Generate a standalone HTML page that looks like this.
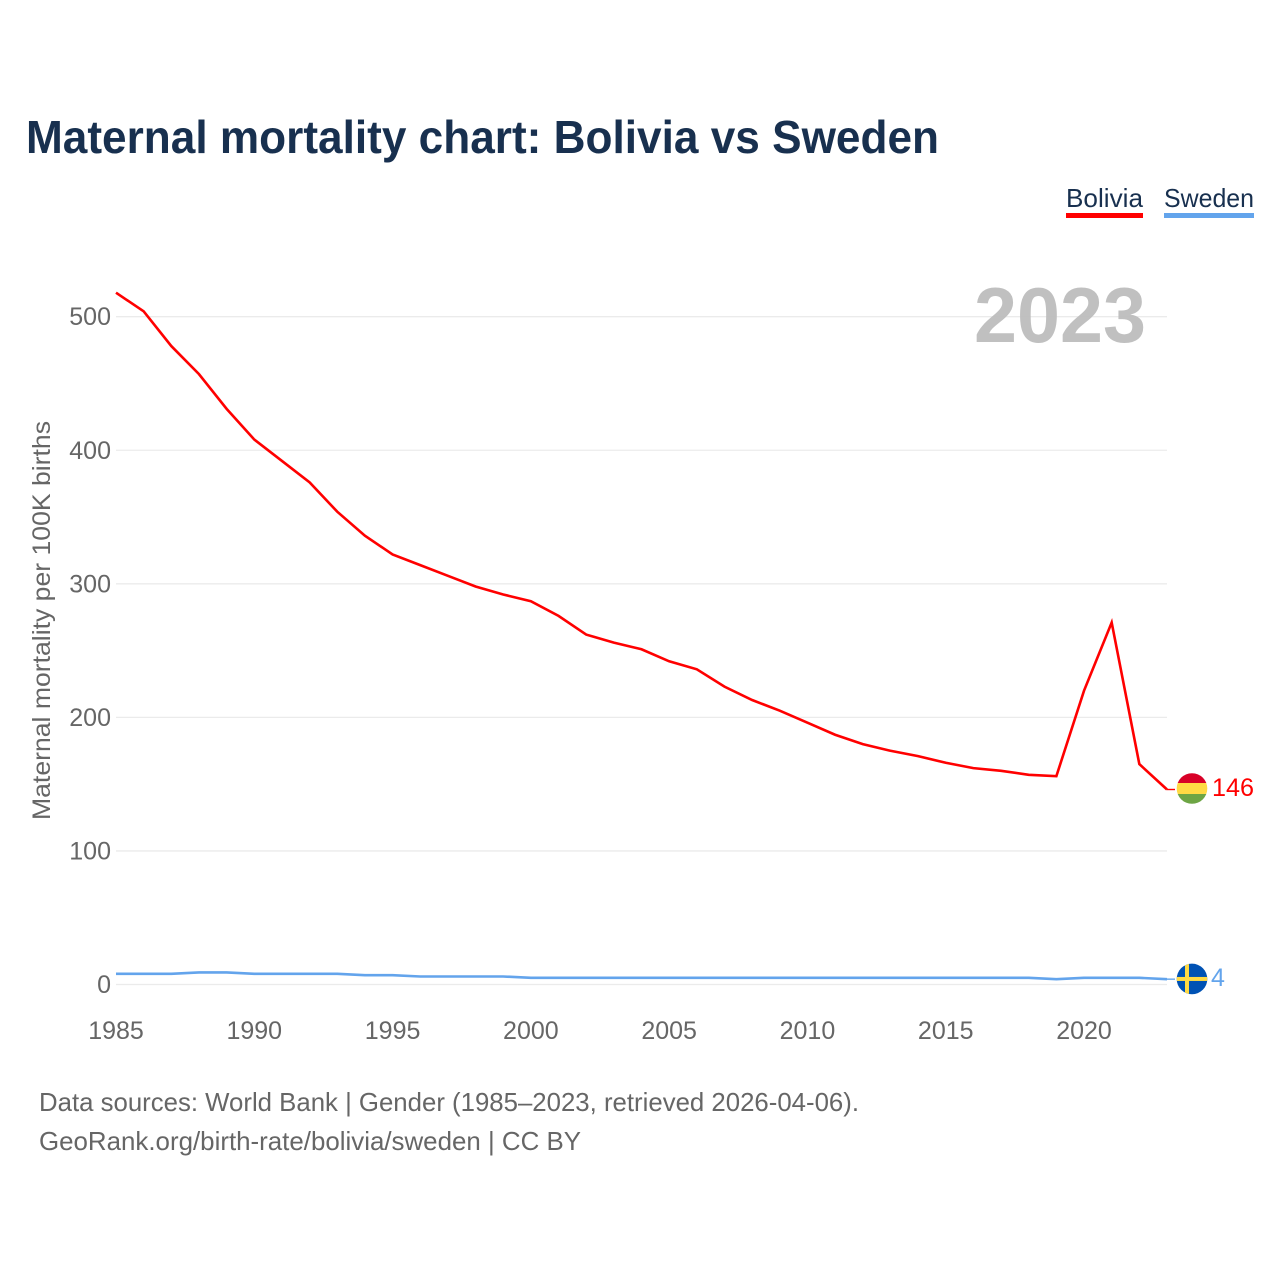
<!DOCTYPE html>
<html lang="en">
<head>
<meta charset="utf-8">
<title>Maternal mortality chart: Bolivia vs Sweden</title>
<style>
html,body{margin:0;padding:0;background:#fff;}
svg{display:block;font-family:"Liberation Sans",sans-serif;}
</style>
</head>
<body>
<svg id="chart" width="1280" height="1280" viewBox="0 0 1280 1280" xmlns="http://www.w3.org/2000/svg">
  <rect x="0" y="0" width="1280" height="1280" fill="#fff"/>
  <text x="26" y="153" font-size="46" font-weight="700" fill="#18304f" textLength="913" lengthAdjust="spacingAndGlyphs">Maternal mortality chart: Bolivia vs Sweden</text>

  <g>
    <text x="1066" y="207" font-size="26" fill="#18304f" textLength="77" lengthAdjust="spacingAndGlyphs">Bolivia</text>
    <rect x="1066" y="213" width="77" height="5" fill="#ff0000"/>
  </g>
  <g>
    <text x="1164" y="207" font-size="26" fill="#18304f" textLength="90" lengthAdjust="spacingAndGlyphs">Sweden</text>
    <rect x="1164" y="213" width="90" height="5" fill="#63a4ec"/>
  </g>

  <g id="grid"></g>
  <text x="1146" y="342" font-size="78" font-weight="700" fill="#bfbfbf" text-anchor="end" textLength="172" lengthAdjust="spacingAndGlyphs" opacity="0.98">2023</text>
  <g id="yticks"></g>
  <g id="xticks"></g>
  <text transform="translate(50 820) rotate(-90)" font-size="25" fill="#666" textLength="399" lengthAdjust="spacingAndGlyphs">Maternal mortality per 100K births</text>

  <g id="series"></g>
  <g id="ends"></g>

  <text x="39" y="1111" font-size="26" fill="#666" textLength="820" lengthAdjust="spacingAndGlyphs">Data sources: World Bank | Gender (1985–2023, retrieved 2026-04-06).</text>
  <text x="39" y="1150" font-size="26" fill="#666" textLength="542" lengthAdjust="spacingAndGlyphs">GeoRank.org/birth-rate/bolivia/sweden | CC BY</text>
</svg>
<script>
const years = [1985,1986,1987,1988,1989,1990,1991,1992,1993,1994,1995,1996,1997,1998,1999,2000,2001,2002,2003,2004,2005,2006,2007,2008,2009,2010,2011,2012,2013,2014,2015,2016,2017,2018,2019,2020,2021,2022,2023];
const bolivia = [518,504,478,457,431,408,392,376,354,336,322,314,306,298,292,287,276,262,256,251,242,236,223,213,205,196,187,180,175,171,166,162,160,157,156,220,271,165,146];
const sweden = [8,8,8,9,9,8,8,8,8,7,7,6,6,6,6,5,5,5,5,5,5,5,5,5,5,5,5,5,5,5,5,5,5,5,4,5,5,5,4];
const yTickValues = [0,100,200,300,400,500];
const xTickValues = [1985,1990,1995,2000,2005,2010,2015,2020];

const NS = 'http://www.w3.org/2000/svg';
const xOf = function (year) { return 116 + (year - 1985) * (1167 - 116) / 38; };
const yOf = function (v) { return 984.5 - v * 1.3356; };
const make = function (tag, attrs, parent) {
  const el = document.createElementNS(NS, tag);
  for (const k in attrs) el.setAttribute(k, attrs[k]);
  parent.appendChild(el);
  return el;
};

const grid = document.getElementById('grid');
const yticks = document.getElementById('yticks');
const xticks = document.getElementById('xticks');
const seriesG = document.getElementById('series');
const ends = document.getElementById('ends');

yTickValues.forEach(function (v) {
  const line = make('line', {x1: 116, x2: 1167, y1: yOf(v), y2: yOf(v), stroke: '#ebebeb', 'stroke-width': 1.3}, grid);
  
  
  const t = make('text', {x: 111, y: yOf(v) + 8.5, 'font-size': 25, fill: '#666', 'text-anchor': 'end'}, yticks);
  
  
  t.textContent = String(v);
});

xTickValues.forEach(function (yr) {
  const t = make('text', {x: xOf(yr), y: 1039, 'font-size': 25, fill: '#666', 'text-anchor': 'middle'}, xticks);
  
  
  t.textContent = String(yr);
});

const drawSeries = function (name, values, color) {
  const pts = values.map(function (v, i) { return xOf(years[i]).toFixed(2) + ',' + yOf(v).toFixed(2); });
  const last = values[values.length - 1];
  const line = make('polyline', {points: pts.join(' '), fill: 'none', stroke: color, 'stroke-width': 2.6, 'stroke-linejoin': 'miter'}, seriesG);
  
  
  const tail = make('line', {x1: xOf(years[years.length - 1]), x2: 1175, y1: yOf(last), y2: yOf(last), stroke: color, 'stroke-width': 1.4}, seriesG);
  
  
};
drawSeries('sweden', sweden, '#63a4ec');
drawSeries('bolivia', bolivia, '#ff0000');

const defs = make('defs', {}, ends);
const lastB = bolivia[bolivia.length - 1];
const lastS = sweden[sweden.length - 1];
const by = yOf(lastB) - 1;
const sy = yOf(lastS) - 0.2;

const clipB = make('clipPath', {id: 'clip-b'}, defs);
make('circle', {cx: 1192, cy: by, r: 15.3}, clipB);
const clipS = make('clipPath', {id: 'clip-s'}, defs);
make('circle', {cx: 1192, cy: sy, r: 15.3}, clipS);

const flagB = make('g', {'clip-path': 'url(#clip-b)'}, ends);


make('rect', {x: 1176, y: by - 16, width: 32, height: 10.5, fill: '#d80027'}, flagB);
make('rect', {x: 1176, y: by - 5.5, width: 32, height: 11, fill: '#ffda44'}, flagB);
make('rect', {x: 1176, y: by + 5.5, width: 32, height: 11, fill: '#6da544'}, flagB);

const flagS = make('g', {'clip-path': 'url(#clip-s)'}, ends);


make('rect', {x: 1176, y: sy - 16, width: 32, height: 32, fill: '#0052b4'}, flagS);
make('rect', {x: 1176, y: sy - 2, width: 32, height: 4, fill: '#ffda44'}, flagS);
make('rect', {x: 1185, y: sy - 16, width: 4, height: 32, fill: '#ffda44'}, flagS);

const labelB = make('text', {x: 1212, y: by + 7.5, 'font-size': 25, fill: '#ff0000', textLength: 42, lengthAdjust: 'spacingAndGlyphs'}, ends);


labelB.textContent = String(lastB);

const labelS = make('text', {x: 1211, y: sy + 7, 'font-size': 25, fill: '#63a4ec'}, ends);


labelS.textContent = String(lastS);
</script>
</body>
</html>
